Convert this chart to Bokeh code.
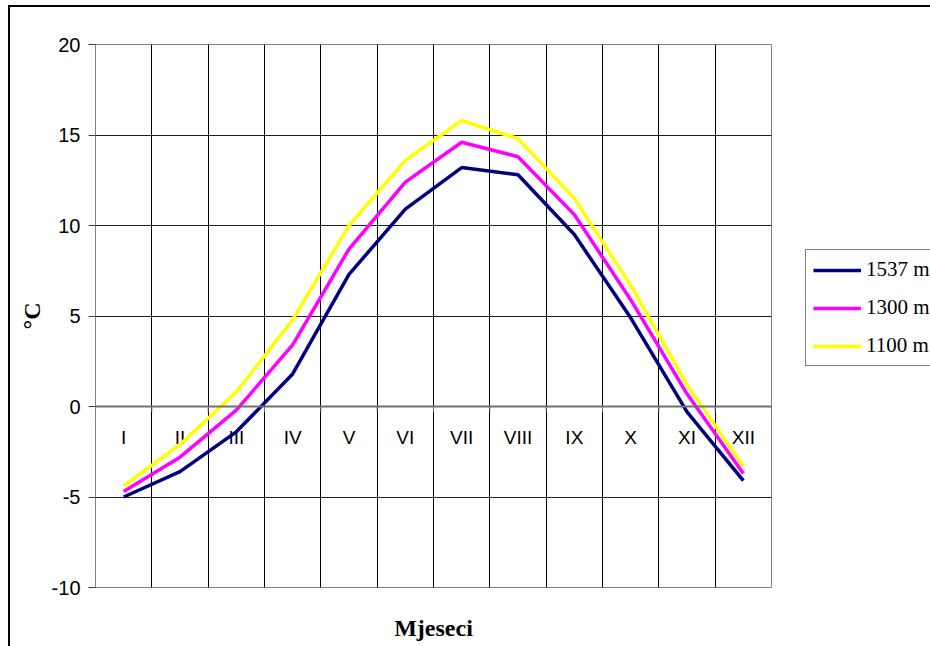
from bokeh.plotting import figure
from bokeh.models import (Range1d, FixedTicker, Legend, LegendItem, Span, InlineStyleSheet)
from bokeh.core.properties import value
from bokeh.embed import file_html
from bokeh.resources import INLINE

# ---- data ----
months = ["I", "II", "III", "IV", "V", "VI", "VII", "VIII", "IX", "X", "XI", "XII"]
t_1537 = [-5.0, -3.6, -1.4, 1.8, 7.3, 10.9, 13.2, 12.8, 9.5, 4.9, -0.3, -4.1]
t_1300 = [-4.7, -2.8, -0.2, 3.4, 8.7, 12.4, 14.6, 13.8, 10.6, 5.9, 0.7, -3.7]
t_1100 = [-4.4, -2.1, 0.8, 4.8, 10.0, 13.6, 15.8, 14.8, 11.5, 6.7, 1.2, -3.3]
series_names = ["1537 m", "1300 m", "1100 m"]
y_ticks = [-10, -5, 0, 5, 10, 15, 20]

colors = ["#000080", "#FF00FF", "#FFFF00"]

n = len(months)
xc = [i + 0.5 for i in range(n)]
bounds = list(range(n + 1))

p = figure(width=930, height=646, output_backend="svg", toolbar_location=None,
           x_range=Range1d(0, n), y_range=Range1d(-10, 20),
           min_border_left=95, min_border_right=159, min_border_top=44, min_border_bottom=59)
p.frame_width = 676
p.frame_height = 543
p.background_fill_color = "white"
p.border_fill_color = "white"
p.outline_line_color = "#808080"
p.outline_line_width = 1

# outer chart border drawn via stylesheet
p.stylesheets = [InlineStyleSheet(css=""":host::after {
  content: ""; position: absolute; left: 8px; top: 5px;
  width: 2000px; height: 2000px; border: 2px solid black;
  pointer-events: none; box-sizing: border-box; }
:host { position: relative; overflow: hidden; }""")]

# y axis
p.yaxis.ticker = FixedTicker(ticks=y_ticks)
p.yaxis.major_label_overrides = {t: str(t) for t in y_ticks}
p.yaxis.axis_line_color = "#808080"
p.yaxis.major_tick_out = 7
p.yaxis.major_tick_in = 0
p.yaxis.major_tick_line_color = "#404040"
p.yaxis.minor_tick_line_color = None
p.yaxis.major_label_text_font = "Liberation Sans"
p.yaxis.major_label_text_font_size = "20px"
p.yaxis.major_label_text_color = "black"
p.yaxis.major_label_standoff = 8
p.yaxis.axis_label = "°C"
p.yaxis.axis_label_text_font = "Liberation Serif"
p.yaxis.axis_label_text_font_style = "bold"
p.yaxis.axis_label_text_font_size = "24px"
p.yaxis.axis_label_text_color = "black"
p.yaxis.axis_label_standoff = 4

# x axis: only the title
p.xaxis.ticker = FixedTicker(ticks=[])
p.xaxis.axis_line_color = None
p.xaxis.major_tick_line_color = None
p.xaxis.minor_tick_line_color = None
p.xaxis.major_label_text_font_size = "0px"
p.xaxis.axis_label = "Mjeseci"
p.xaxis.axis_label_text_font = "Liberation Serif"
p.xaxis.axis_label_text_font_style = "bold"
p.xaxis.axis_label_text_font_size = "24px"
p.xaxis.axis_label_text_color = "black"
p.xaxis.axis_label_standoff = 27

# grids
p.xgrid.ticker = FixedTicker(ticks=bounds)
p.xgrid.grid_line_color = "black"
p.xgrid.grid_line_width = 1
p.ygrid.ticker = FixedTicker(ticks=y_ticks)
p.ygrid.grid_line_color = "#202020"
p.ygrid.grid_line_width = 1

# category axis at zero
p.add_layout(Span(location=0, dimension="width", line_color="#707070", line_width=2))
p.segment(x0=bounds, y0=[0] * len(bounds), x1=bounds, y1=[-0.3] * len(bounds),
          line_color="#707070", line_width=1)
p.text(x=xc, y=[0] * n, text=months, text_align="center", text_baseline="middle",
       y_offset=31, text_font=value("Liberation Sans"), text_font_size="19px",
       text_color="black")

# lines
renderers = []
for ys, c in zip([t_1537, t_1300, t_1100], colors):
    r = p.line(x=xc, y=ys, line_color=c, line_width=3.5)
    renderers.append(r)

legend = Legend(items=[LegendItem(label=nm, renderers=[r]) for nm, r in zip(series_names, renderers)],
                location=(34, 221))
legend.label_text_font = "Liberation Serif"
legend.label_text_font_size = "21px"
legend.label_text_color = "black"
legend.glyph_width = 48
legend.glyph_height = 20
legend.spacing = 13
legend.padding = 7
legend.margin = 0
legend.label_standoff = 5
legend.border_line_color = "black"
legend.border_line_width = 1
legend.background_fill_color = "white"
legend.background_fill_alpha = 1
p.add_layout(legend, "right")

open("out.html", "w").write(file_html(p, INLINE))
